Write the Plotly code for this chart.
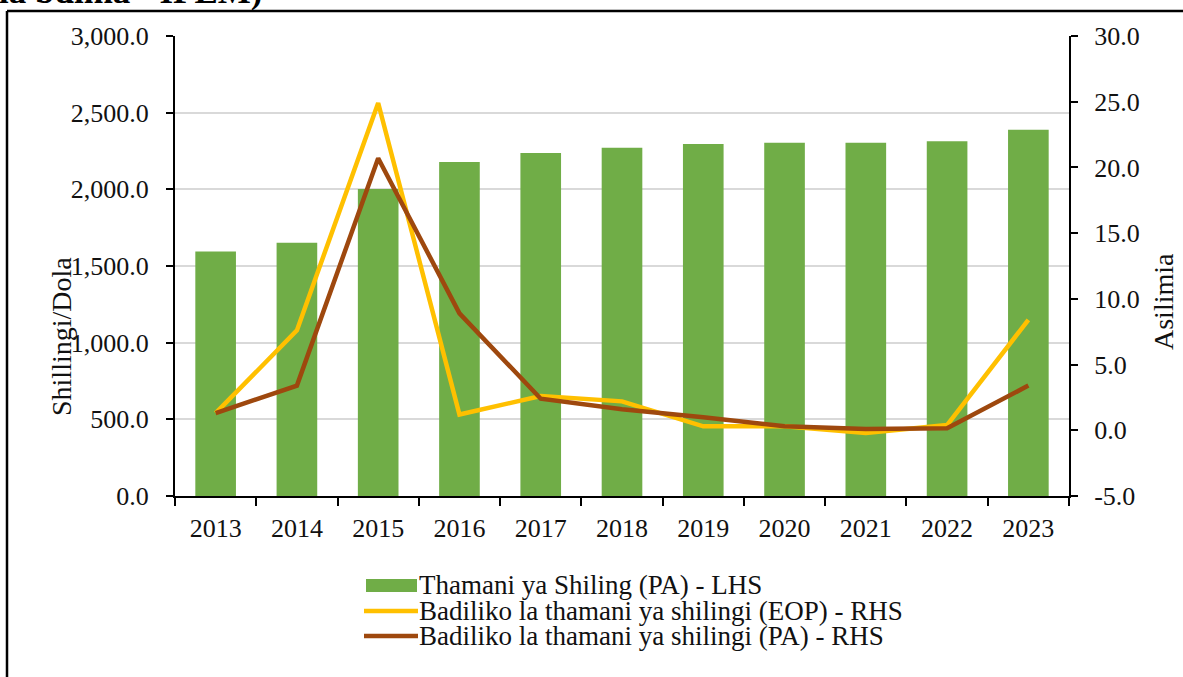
import plotly.graph_objects as go

years = ["2013", "2014", "2015", "2016", "2017", "2018", "2019", "2020", "2021", "2022", "2023"]
thamani_pa = [1595, 1652, 2002, 2178, 2237, 2271, 2296, 2304, 2304, 2313, 2389]
badiliko_eop = [1.3, 7.6, 24.9, 1.2, 2.6, 2.2, 0.3, 0.3, -0.2, 0.4, 8.4]
badiliko_pa = [1.3, 3.4, 20.7, 8.9, 2.4, 1.6, 1.0, 0.3, 0.1, 0.15, 3.4]
rhs_ticks = [-5, 0, 5, 10, 15, 20, 25, 30]

names = ["Thamani ya Shiling (PA) - LHS",
         "Badiliko la thamani ya shilingi (EOP) - RHS",
         "Badiliko la thamani ya shilingi (PA) - RHS"]
colors = ["#70AD47", "#FFC000", "#9E480E"]

W, H = 1183, 677
L, R, T, B = 175, 1069, 36, 496

def px(x):
    return (x - L) / (R - L)

def py(y):
    return (B - y) / (B - T)

FONT = "Liberation Serif, Times New Roman, serif"
FS = 26

fig = go.Figure()
fig.add_trace(go.Bar(
    x=years, y=thamani_pa, name=names[0],
    marker=dict(color=colors[0], line=dict(width=0)), yaxis="y"))
fig.add_trace(go.Scatter(
    x=years, y=badiliko_eop, name=names[1],
    mode="lines", line=dict(color=colors[1], width=4.5), yaxis="y2"))
fig.add_trace(go.Scatter(
    x=years, y=badiliko_pa, name=names[2],
    mode="lines", line=dict(color=colors[2], width=4.5), yaxis="y2"))

fig.update_layout(
    width=W, height=H,
    margin=dict(l=L, r=W - R, t=T, b=H - B, pad=0, autoexpand=False),
    paper_bgcolor="white", plot_bgcolor="white",
    font=dict(family=FONT, size=FS, color="#111111"),
    bargap=0.5,
    showlegend=False,
    xaxis=dict(type="category", showline=True, linecolor="black", linewidth=2,
               ticks="outside", tickson="boundaries", ticklen=8, tickcolor="black",
               tickwidth=1.5, showgrid=False, tickfont=dict(size=FS),
               ticklabelstandoff=8, range=[-0.5, 10.5], automargin=False),
    yaxis=dict(range=[0, 3000], dtick=500, tickformat=",.1f", showline=True,
               linecolor="black", linewidth=2, ticks="outside", ticklen=7,
               tickcolor="black", tickwidth=1.5, showgrid=True,
               gridcolor="#D9D9D9", gridwidth=1.5, zeroline=False,
               tickfont=dict(size=FS), ticklabelstandoff=12, automargin=False),
    yaxis2=dict(range=[-5, 30], tickmode="array", tickvals=rhs_ticks,
                ticktext=[f"{v:.1f}" for v in rhs_ticks], overlaying="y",
                side="right", showline=True, linecolor="black", linewidth=2,
                ticks="outside", ticklen=7, tickcolor="black", tickwidth=1.5,
                showgrid=False, zeroline=False, tickfont=dict(size=FS),
                ticklabelstandoff=11, automargin=False),
)

# axis titles
TFS = 28
fig.add_annotation(text="Shillingi/Dola", xref="paper", yref="paper",
                   x=px(61), y=py(336), textangle=-90, showarrow=False,
                   xanchor="center", yanchor="middle",
                   font=dict(family=FONT, size=TFS, color="#111111"))
fig.add_annotation(text="Asilimia", xref="paper", yref="paper",
                   x=px(1163), y=py(302), textangle=-90, showarrow=False,
                   xanchor="center", yanchor="middle",
                   font=dict(family=FONT, size=TFS, color="#111111"))

# legend (symbols + labels)
LFS = 27
rows_y = [585, 611, 636]
for i, (nm, col) in enumerate(zip(names, colors)):
    yy = rows_y[i]
    if i == 0:
        fig.add_shape(type="rect", xref="paper", yref="paper",
                      x0=px(366), x1=px(417), y0=py(yy + 7), y1=py(yy - 6),
                      fillcolor=col, line=dict(width=0))
    else:
        fig.add_shape(type="line", xref="paper", yref="paper",
                      x0=px(364), x1=px(418), y0=py(yy), y1=py(yy),
                      line=dict(color=col, width=4.5))
    fig.add_annotation(text=nm, xref="paper", yref="paper",
                       x=px(417), y=py(yy), xanchor="left", yanchor="middle",
                       showarrow=False,
                       font=dict(family=FONT, size=LFS, color="#111111"))

# outer frame (left and top edges visible)
fig.add_shape(type="line", xref="paper", yref="paper",
              x0=px(7), x1=px(1190), y0=py(11), y1=py(11),
              line=dict(color="black", width=2.5))
fig.add_shape(type="line", xref="paper", yref="paper",
              x0=px(7), x1=px(7), y0=py(11), y1=py(690),
              line=dict(color="black", width=2.5))

# partially visible caption above the frame
fig.add_annotation(text="<b>la bdima - IPEM)</b>", xref="paper", yref="paper",
                   x=px(-3), y=py(12.5), xanchor="left", yanchor="bottom",
                   showarrow=False, font=dict(family=FONT, size=35, color="black"))

fig.write_html("out.html", config={"displayModeBar": False},
               post_script="document.body.style.margin='0';")
